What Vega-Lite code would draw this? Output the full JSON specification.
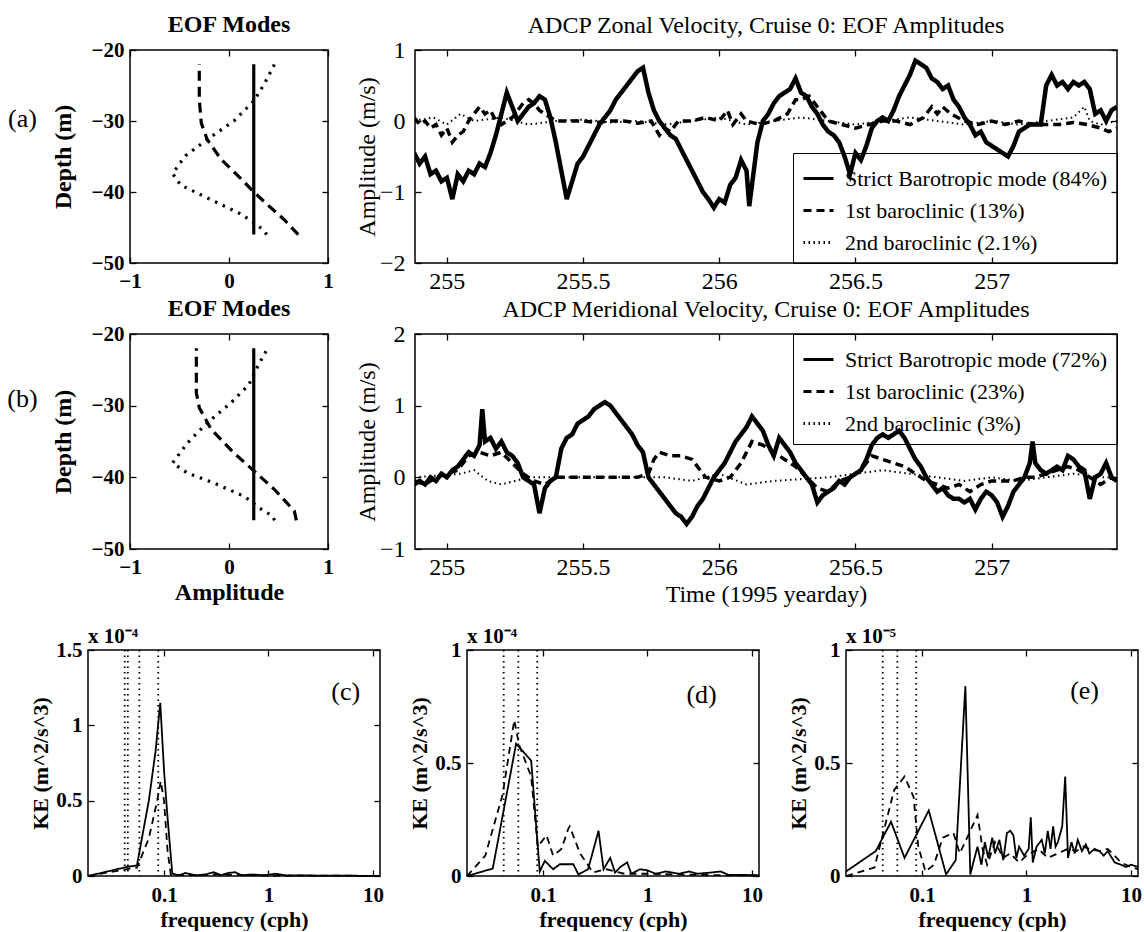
{
  "$schema": "https://vega.github.io/schema/vega-lite/v6.json",
  "background": "white",
  "padding": {"left": 0, "top": 12, "right": 0, "bottom": 0},
  "config": {
    "font": "Liberation Serif",
    "view": {"stroke": "black", "strokeWidth": 1.5},
    "axis": {"grid": false, "domain": false, "ticks": true, "tickSize": -6, "tickColor": "black", "tickWidth": 1.3, "labelPadding": 13, "labelFont": "Liberation Serif", "labelFontSize": 21, "labelFontWeight": "bold", "labelColor": "black", "labelFlush": false, "labelOverlap": false, "titleFont": "Liberation Serif", "titleFontSize": 24, "titleFontWeight": "bold", "titleColor": "black", "titlePadding": 3},
    "axisY": {"labelPadding": 12},
    "title": {"font": "Liberation Serif", "fontSize": 24, "fontWeight": "bold", "color": "black", "offset": 2},
    "line": {"color": "black"},
    "rule": {"color": "black"},
    "text": {"color": "black", "font": "Liberation Serif"}
  },
  "datasets": {
    "eofA": [
      {"amp": 0.25, "depth": -22, "mode": "Strict Barotropic"}, {"amp": 0.25, "depth": -46, "mode": "Strict Barotropic"},
      {"amp": -0.30, "depth": -22, "mode": "1st baroclinic"}, {"amp": -0.30, "depth": -27, "mode": "1st baroclinic"}, {"amp": -0.28, "depth": -30.3, "mode": "1st baroclinic"}, {"amp": -0.22, "depth": -32.6, "mode": "1st baroclinic"}, {"amp": -0.08, "depth": -35.4, "mode": "1st baroclinic"}, {"amp": 0.12, "depth": -38.1, "mode": "1st baroclinic"}, {"amp": 0.25, "depth": -40, "mode": "1st baroclinic"}, {"amp": 0.39, "depth": -41.8, "mode": "1st baroclinic"}, {"amp": 0.55, "depth": -43.8, "mode": "1st baroclinic"}, {"amp": 0.7, "depth": -46, "mode": "1st baroclinic"},
      {"amp": 0.46, "depth": -22, "mode": "2nd baroclinic"}, {"amp": 0.36, "depth": -24.7, "mode": "2nd baroclinic"}, {"amp": 0.25, "depth": -27.2, "mode": "2nd baroclinic"}, {"amp": 0.05, "depth": -30, "mode": "2nd baroclinic"}, {"amp": -0.22, "depth": -32.6, "mode": "2nd baroclinic"}, {"amp": -0.44, "depth": -34.9, "mode": "2nd baroclinic"}, {"amp": -0.57, "depth": -37.4, "mode": "2nd baroclinic"}, {"amp": -0.49, "depth": -39, "mode": "2nd baroclinic"}, {"amp": -0.3, "depth": -40.3, "mode": "2nd baroclinic"}, {"amp": -0.15, "depth": -41.3, "mode": "2nd baroclinic"}, {"amp": 0.12, "depth": -43.1, "mode": "2nd baroclinic"}, {"amp": 0.25, "depth": -44.3, "mode": "2nd baroclinic"}, {"amp": 0.36, "depth": -45.5, "mode": "2nd baroclinic"}, {"amp": 0.38, "depth": -46, "mode": "2nd baroclinic"}
    ],
    "eofB": [
      {"amp": 0.25, "depth": -22, "mode": "Strict Barotropic"}, {"amp": 0.25, "depth": -46, "mode": "Strict Barotropic"},
      {"amp": -0.33, "depth": -22, "mode": "1st baroclinic"}, {"amp": -0.33, "depth": -28.2, "mode": "1st baroclinic"}, {"amp": -0.30, "depth": -30.3, "mode": "1st baroclinic"}, {"amp": -0.18, "depth": -33.3, "mode": "1st baroclinic"}, {"amp": 0.05, "depth": -36.6, "mode": "1st baroclinic"}, {"amp": 0.26, "depth": -39.2, "mode": "1st baroclinic"}, {"amp": 0.46, "depth": -41.7, "mode": "1st baroclinic"}, {"amp": 0.66, "depth": -44.7, "mode": "1st baroclinic"}, {"amp": 0.68, "depth": -46, "mode": "1st baroclinic"},
      {"amp": 0.39, "depth": -22, "mode": "2nd baroclinic"}, {"amp": 0.29, "depth": -24.5, "mode": "2nd baroclinic"}, {"amp": 0.2, "depth": -27.1, "mode": "2nd baroclinic"}, {"amp": 0.02, "depth": -29.6, "mode": "2nd baroclinic"}, {"amp": -0.22, "depth": -32.4, "mode": "2nd baroclinic"}, {"amp": -0.42, "depth": -35.2, "mode": "2nd baroclinic"}, {"amp": -0.57, "depth": -38, "mode": "2nd baroclinic"}, {"amp": -0.42, "depth": -39.4, "mode": "2nd baroclinic"}, {"amp": -0.15, "depth": -40.8, "mode": "2nd baroclinic"}, {"amp": 0.16, "depth": -42.7, "mode": "2nd baroclinic"}, {"amp": 0.31, "depth": -44.3, "mode": "2nd baroclinic"}, {"amp": 0.44, "depth": -45.4, "mode": "2nd baroclinic"}, {"amp": 0.46, "depth": -46, "mode": "2nd baroclinic"}
    ],
    "z1": [
      {"t":254.88,"v":-0.45},{"t":254.90,"v":-0.6},{"t":254.92,"v":-0.5},{"t":254.94,"v":-0.75},{"t":254.96,"v":-0.7},{"t":254.98,"v":-0.85},{"t":255.00,"v":-0.8},{"t":255.02,"v":-1.1},{"t":255.04,"v":-0.75},{"t":255.06,"v":-0.85},{"t":255.08,"v":-0.7},{"t":255.10,"v":-0.75},{"t":255.12,"v":-0.6},{"t":255.14,"v":-0.65},{"t":255.16,"v":-0.45},{"t":255.18,"v":-0.2},{"t":255.20,"v":0.1},{"t":255.22,"v":0.4},{"t":255.24,"v":0.2},{"t":255.26,"v":0.0},{"t":255.28,"v":0.1},{"t":255.30,"v":0.2},{"t":255.32,"v":0.25},{"t":255.34,"v":0.35},{"t":255.36,"v":0.3},{"t":255.38,"v":0.05},{"t":255.40,"v":-0.3},{"t":255.42,"v":-0.7},{"t":255.44,"v":-1.1},{"t":255.46,"v":-0.85},{"t":255.48,"v":-0.6},{"t":255.50,"v":-0.5},{"t":255.52,"v":-0.35},{"t":255.54,"v":-0.2},{"t":255.56,"v":-0.05},{"t":255.58,"v":0.05},{"t":255.60,"v":0.15},{"t":255.62,"v":0.3},{"t":255.64,"v":0.4},{"t":255.66,"v":0.5},{"t":255.68,"v":0.6},{"t":255.70,"v":0.7},{"t":255.72,"v":0.75},{"t":255.74,"v":0.4},{"t":255.76,"v":0.15},{"t":255.78,"v":0.0},{"t":255.80,"v":-0.1},{"t":255.82,"v":-0.2},{"t":255.84,"v":-0.25},{"t":255.86,"v":-0.4},{"t":255.88,"v":-0.55},{"t":255.90,"v":-0.7},{"t":255.92,"v":-0.85},{"t":255.94,"v":-1.0},{"t":255.96,"v":-1.1},{"t":255.98,"v":-1.22},{"t":256.00,"v":-1.1},{"t":256.02,"v":-1.15},{"t":256.04,"v":-0.9},{"t":256.06,"v":-0.8},{"t":256.08,"v":-0.55},{"t":256.10,"v":-0.7},{"t":256.11,"v":-1.2},{"t":256.12,"v":-0.9},{"t":256.14,"v":-0.3},{"t":256.16,"v":0.0},{"t":256.18,"v":0.1},{"t":256.20,"v":0.25},{"t":256.22,"v":0.35},{"t":256.24,"v":0.4},{"t":256.26,"v":0.45},{"t":256.28,"v":0.6},{"t":256.30,"v":0.4},{"t":256.32,"v":0.35},{"t":256.34,"v":0.2},{"t":256.36,"v":0.1},{"t":256.38,"v":-0.05},{"t":256.40,"v":-0.15},{"t":256.42,"v":-0.2},{"t":256.44,"v":-0.3},{"t":256.46,"v":-0.5},{"t":256.48,"v":-0.75},{"t":256.50,"v":-0.45},{"t":256.52,"v":-0.55},{"t":256.54,"v":-0.35},{"t":256.56,"v":-0.1},{"t":256.58,"v":0.0},{"t":256.60,"v":0.05},{"t":256.62,"v":0.0},{"t":256.64,"v":0.15},{"t":256.66,"v":0.35},{"t":256.68,"v":0.5},{"t":256.70,"v":0.65},{"t":256.72,"v":0.85},{"t":256.74,"v":0.8},{"t":256.76,"v":0.75},{"t":256.78,"v":0.6},{"t":256.80,"v":0.55},{"t":256.82,"v":0.45},{"t":256.84,"v":0.5},{"t":256.86,"v":0.3},{"t":256.88,"v":0.2},{"t":256.90,"v":0.05},{"t":256.92,"v":-0.05},{"t":256.94,"v":-0.2},{"t":256.96,"v":-0.15},{"t":256.98,"v":-0.3},{"t":257.00,"v":-0.35},{"t":257.02,"v":-0.4},{"t":257.04,"v":-0.45},{"t":257.06,"v":-0.5},{"t":257.08,"v":-0.35},{"t":257.10,"v":-0.15},{"t":257.12,"v":-0.1},{"t":257.14,"v":-0.05},{"t":257.16,"v":-0.05},{"t":257.18,"v":-0.05},{"t":257.20,"v":0.5},{"t":257.22,"v":0.65},{"t":257.24,"v":0.5},{"t":257.26,"v":0.55},{"t":257.28,"v":0.45},{"t":257.30,"v":0.55},{"t":257.32,"v":0.5},{"t":257.34,"v":0.55},{"t":257.36,"v":0.45},{"t":257.38,"v":0.1},{"t":257.40,"v":0.15},{"t":257.42,"v":0.0},{"t":257.44,"v":0.15},{"t":257.46,"v":0.2}
    ],
    "z2": [
      {"t":254.88,"v":0.05},{"t":254.90,"v":-0.05},{"t":254.92,"v":0.0},{"t":254.94,"v":-0.1},{"t":254.96,"v":-0.05},{"t":254.98,"v":-0.2},{"t":255.00,"v":-0.1},{"t":255.02,"v":-0.3},{"t":255.04,"v":-0.2},{"t":255.06,"v":-0.15},{"t":255.08,"v":0.0},{"t":255.10,"v":0.1},{"t":255.12,"v":0.2},{"t":255.14,"v":0.1},{"t":255.16,"v":0.15},{"t":255.18,"v":0.0},{"t":255.20,"v":-0.05},{"t":255.22,"v":0.0},{"t":255.24,"v":0.05},{"t":255.26,"v":0.15},{"t":255.28,"v":0.25},{"t":255.30,"v":0.3},{"t":255.32,"v":0.25},{"t":255.34,"v":0.15},{"t":255.36,"v":0.1},{"t":255.38,"v":0.05},{"t":255.40,"v":0.0},{"t":255.45,"v":0.0},{"t":255.50,"v":0.0},{"t":255.55,"v":-0.02},{"t":255.60,"v":0.0},{"t":255.65,"v":0.0},{"t":255.70,"v":-0.03},{"t":255.75,"v":0.0},{"t":255.78,"v":-0.2},{"t":255.80,"v":-0.1},{"t":255.82,"v":-0.15},{"t":255.85,"v":0.0},{"t":255.90,"v":0.0},{"t":255.95,"v":0.05},{"t":256.00,"v":0.0},{"t":256.03,"v":0.15},{"t":256.05,"v":-0.05},{"t":256.08,"v":0.1},{"t":256.10,"v":0.0},{"t":256.15,"v":-0.05},{"t":256.20,"v":0.0},{"t":256.25,"v":0.1},{"t":256.28,"v":0.3},{"t":256.30,"v":0.3},{"t":256.33,"v":0.35},{"t":256.36,"v":0.2},{"t":256.40,"v":0.0},{"t":256.45,"v":-0.05},{"t":256.50,"v":-0.1},{"t":256.55,"v":-0.05},{"t":256.60,"v":0.0},{"t":256.65,"v":0.0},{"t":256.70,"v":-0.05},{"t":256.75,"v":0.05},{"t":256.78,"v":0.2},{"t":256.80,"v":0.1},{"t":256.82,"v":0.2},{"t":256.85,"v":0.1},{"t":256.90,"v":0.0},{"t":256.95,"v":-0.05},{"t":257.00,"v":0.0},{"t":257.05,"v":-0.05},{"t":257.10,"v":0.0},{"t":257.15,"v":-0.05},{"t":257.20,"v":-0.05},{"t":257.25,"v":-0.05},{"t":257.30,"v":-0.02},{"t":257.35,"v":-0.05},{"t":257.40,"v":-0.1},{"t":257.43,"v":-0.15},{"t":257.46,"v":-0.1}
    ],
    "z3": [
      {"t":254.88,"v":0.0},{"t":254.95,"v":0.05},{"t":255.00,"v":-0.05},{"t":255.05,"v":0.1},{"t":255.10,"v":0.0},{"t":255.20,"v":0.05},{"t":255.30,"v":-0.05},{"t":255.40,"v":0.0},{"t":255.50,"v":0.02},{"t":255.60,"v":-0.02},{"t":255.70,"v":0.0},{"t":255.80,"v":-0.05},{"t":255.90,"v":0.0},{"t":256.00,"v":0.05},{"t":256.10,"v":-0.05},{"t":256.20,"v":0.0},{"t":256.30,"v":0.05},{"t":256.40,"v":0.0},{"t":256.50,"v":-0.05},{"t":256.60,"v":0.0},{"t":256.70,"v":0.05},{"t":256.80,"v":0.0},{"t":256.90,"v":-0.05},{"t":257.00,"v":0.0},{"t":257.10,"v":-0.05},{"t":257.20,"v":0.0},{"t":257.30,"v":0.05},{"t":257.34,"v":0.2},{"t":257.36,"v":0.0},{"t":257.40,"v":-0.05},{"t":257.46,"v":0.0}
    ],
    "m1": [
      {"t":254.88,"v":-0.1},{"t":254.90,"v":-0.05},{"t":254.92,"v":-0.1},{"t":254.94,"v":0.0},{"t":254.96,"v":-0.05},{"t":254.98,"v":0.05},{"t":255.00,"v":0.0},{"t":255.02,"v":0.1},{"t":255.04,"v":0.15},{"t":255.06,"v":0.25},{"t":255.08,"v":0.35},{"t":255.10,"v":0.3},{"t":255.12,"v":0.45},{"t":255.13,"v":0.95},{"t":255.14,"v":0.5},{"t":255.16,"v":0.55},{"t":255.18,"v":0.4},{"t":255.20,"v":0.5},{"t":255.22,"v":0.35},{"t":255.24,"v":0.3},{"t":255.26,"v":0.2},{"t":255.28,"v":0.0},{"t":255.30,"v":-0.05},{"t":255.32,"v":-0.1},{"t":255.34,"v":-0.5},{"t":255.36,"v":-0.15},{"t":255.38,"v":-0.05},{"t":255.40,"v":0.0},{"t":255.42,"v":0.4},{"t":255.44,"v":0.55},{"t":255.46,"v":0.6},{"t":255.48,"v":0.75},{"t":255.50,"v":0.8},{"t":255.52,"v":0.85},{"t":255.54,"v":0.95},{"t":255.56,"v":1.0},{"t":255.58,"v":1.05},{"t":255.60,"v":1.0},{"t":255.62,"v":0.9},{"t":255.64,"v":0.8},{"t":255.66,"v":0.7},{"t":255.68,"v":0.6},{"t":255.70,"v":0.45},{"t":255.72,"v":0.35},{"t":255.74,"v":0.0},{"t":255.76,"v":-0.1},{"t":255.78,"v":-0.2},{"t":255.80,"v":-0.3},{"t":255.82,"v":-0.4},{"t":255.84,"v":-0.5},{"t":255.86,"v":-0.55},{"t":255.88,"v":-0.65},{"t":255.90,"v":-0.55},{"t":255.92,"v":-0.4},{"t":255.94,"v":-0.3},{"t":255.96,"v":-0.15},{"t":255.98,"v":0.0},{"t":256.00,"v":0.1},{"t":256.02,"v":0.2},{"t":256.04,"v":0.35},{"t":256.06,"v":0.5},{"t":256.08,"v":0.6},{"t":256.10,"v":0.7},{"t":256.12,"v":0.85},{"t":256.14,"v":0.75},{"t":256.16,"v":0.65},{"t":256.18,"v":0.45},{"t":256.20,"v":0.3},{"t":256.22,"v":0.55},{"t":256.24,"v":0.45},{"t":256.26,"v":0.35},{"t":256.28,"v":0.2},{"t":256.30,"v":0.1},{"t":256.32,"v":0.0},{"t":256.34,"v":-0.1},{"t":256.36,"v":-0.35},{"t":256.38,"v":-0.25},{"t":256.40,"v":-0.2},{"t":256.42,"v":-0.15},{"t":256.44,"v":-0.05},{"t":256.46,"v":-0.1},{"t":256.48,"v":0.0},{"t":256.50,"v":0.05},{"t":256.52,"v":0.1},{"t":256.54,"v":0.25},{"t":256.56,"v":0.45},{"t":256.58,"v":0.55},{"t":256.60,"v":0.6},{"t":256.62,"v":0.55},{"t":256.64,"v":0.6},{"t":256.66,"v":0.65},{"t":256.68,"v":0.55},{"t":256.70,"v":0.4},{"t":256.72,"v":0.25},{"t":256.74,"v":0.15},{"t":256.76,"v":0.0},{"t":256.78,"v":-0.1},{"t":256.80,"v":-0.2},{"t":256.82,"v":-0.15},{"t":256.84,"v":-0.25},{"t":256.86,"v":-0.3},{"t":256.88,"v":-0.3},{"t":256.90,"v":-0.35},{"t":256.92,"v":-0.3},{"t":256.94,"v":-0.45},{"t":256.96,"v":-0.3},{"t":256.98,"v":-0.2},{"t":257.00,"v":-0.25},{"t":257.02,"v":-0.35},{"t":257.04,"v":-0.55},{"t":257.06,"v":-0.4},{"t":257.08,"v":-0.2},{"t":257.10,"v":-0.1},{"t":257.12,"v":0.0},{"t":257.14,"v":0.2},{"t":257.15,"v":0.5},{"t":257.16,"v":0.2},{"t":257.18,"v":0.1},{"t":257.20,"v":0.05},{"t":257.22,"v":0.1},{"t":257.24,"v":0.15},{"t":257.26,"v":0.1},{"t":257.28,"v":0.3},{"t":257.30,"v":0.25},{"t":257.32,"v":0.15},{"t":257.34,"v":0.1},{"t":257.36,"v":-0.3},{"t":257.38,"v":0.0},{"t":257.40,"v":0.05},{"t":257.42,"v":0.2},{"t":257.44,"v":0.0},{"t":257.46,"v":-0.05}
    ],
    "m2": [
      {"t":254.88,"v":-0.05},{"t":254.92,"v":-0.1},{"t":254.96,"v":0.0},{"t":255.00,"v":0.05},{"t":255.04,"v":0.1},{"t":255.08,"v":0.3},{"t":255.12,"v":0.35},{"t":255.16,"v":0.3},{"t":255.20,"v":0.35},{"t":255.24,"v":0.2},{"t":255.28,"v":0.05},{"t":255.32,"v":-0.05},{"t":255.36,"v":-0.1},{"t":255.40,"v":0.0},{"t":255.50,"v":0.0},{"t":255.60,"v":0.0},{"t":255.70,"v":0.0},{"t":255.74,"v":0.05},{"t":255.76,"v":0.25},{"t":255.78,"v":0.35},{"t":255.82,"v":0.3},{"t":255.86,"v":0.3},{"t":255.90,"v":0.25},{"t":255.92,"v":0.15},{"t":255.95,"v":0.0},{"t":256.00,"v":-0.05},{"t":256.04,"v":0.0},{"t":256.08,"v":0.2},{"t":256.12,"v":0.5},{"t":256.16,"v":0.45},{"t":256.20,"v":0.35},{"t":256.24,"v":0.25},{"t":256.28,"v":0.15},{"t":256.32,"v":0.0},{"t":256.36,"v":-0.15},{"t":256.40,"v":-0.2},{"t":256.44,"v":-0.05},{"t":256.48,"v":0.0},{"t":256.52,"v":0.1},{"t":256.56,"v":0.3},{"t":256.60,"v":0.25},{"t":256.64,"v":0.2},{"t":256.68,"v":0.15},{"t":256.72,"v":0.05},{"t":256.76,"v":-0.05},{"t":256.80,"v":-0.1},{"t":256.84,"v":-0.15},{"t":256.88,"v":-0.1},{"t":256.92,"v":-0.2},{"t":256.96,"v":-0.1},{"t":257.00,"v":-0.05},{"t":257.04,"v":-0.05},{"t":257.08,"v":-0.05},{"t":257.12,"v":0.0},{"t":257.16,"v":0.0},{"t":257.20,"v":0.05},{"t":257.24,"v":0.1},{"t":257.28,"v":0.15},{"t":257.32,"v":0.1},{"t":257.36,"v":0.0},{"t":257.40,"v":-0.1},{"t":257.44,"v":0.0},{"t":257.46,"v":-0.05}
    ],
    "m3": [
      {"t":254.88,"v":0.0},{"t":255.05,"v":0.05},{"t":255.10,"v":0.1},{"t":255.15,"v":-0.05},{"t":255.20,"v":-0.1},{"t":255.25,"v":-0.05},{"t":255.30,"v":0.0},{"t":255.50,"v":0.0},{"t":255.80,"v":0.0},{"t":255.90,"v":-0.05},{"t":256.00,"v":0.05},{"t":256.10,"v":-0.1},{"t":256.20,"v":-0.05},{"t":256.40,"v":0.0},{"t":256.50,"v":0.05},{"t":256.60,"v":0.1},{"t":256.70,"v":0.05},{"t":256.80,"v":0.0},{"t":256.90,"v":-0.05},{"t":257.00,"v":0.0},{"t":257.10,"v":-0.05},{"t":257.20,"v":0.0},{"t":257.30,"v":0.05},{"t":257.40,"v":0.0},{"t":257.46,"v":0.0}
    ],
    "specC": [
      {"f":0.0187,"ke":0,"s":"a"},{"f":0.044,"ke":0.000006,"s":"a"},{"f":0.055,"ke":0.000007,"s":"a"},{"f":0.0715,"ke":0.00005,"s":"a"},{"f":0.083,"ke":0.000083,"s":"a"},{"f":0.092,"ke":0.000115,"s":"a"},{"f":0.1,"ke":0.00007,"s":"a"},{"f":0.108,"ke":0.000039,"s":"a"},{"f":0.112,"ke":0.000026,"s":"a"},{"f":0.12,"ke":0.0000015,"s":"a"},{"f":0.14,"ke":0.0000005,"s":"a"},{"f":0.16,"ke":0.000002,"s":"a"},{"f":0.2,"ke":0.0000005,"s":"a"},{"f":0.25,"ke":0.000001,"s":"a"},{"f":0.3,"ke":0.0000025,"s":"a"},{"f":0.35,"ke":0.0000005,"s":"a"},{"f":0.41,"ke":0.000002,"s":"a"},{"f":0.48,"ke":0.0000025,"s":"a"},{"f":0.55,"ke":0.0000005,"s":"a"},{"f":0.7,"ke":0.000001,"s":"a"},{"f":0.9,"ke":0.0000005,"s":"a"},{"f":1.17,"ke":0.0000015,"s":"a"},{"f":1.5,"ke":0.0000003,"s":"a"},{"f":2,"ke":0.0000005,"s":"a"},{"f":3,"ke":0.0000002,"s":"a"},{"f":5,"ke":0.0000003,"s":"a"},{"f":8,"ke":0.0000001,"s":"a"},{"f":11.7,"ke":0.0000001,"s":"a"},
      {"f":0.0187,"ke":0,"s":"b"},{"f":0.03,"ke":0.0000025,"s":"b"},{"f":0.044,"ke":0.0000045,"s":"b"},{"f":0.055,"ke":0.0000055,"s":"b"},{"f":0.0715,"ke":0.000025,"s":"b"},{"f":0.086,"ke":0.00005,"s":"b"},{"f":0.093,"ke":0.000063,"s":"b"},{"f":0.1,"ke":0.00005,"s":"b"},{"f":0.108,"ke":0.000017,"s":"b"},{"f":0.116,"ke":0.000001,"s":"b"},{"f":0.15,"ke":0.0000005,"s":"b"},{"f":0.3,"ke":0.000001,"s":"b"},{"f":1,"ke":0.0000003,"s":"b"},{"f":11.7,"ke":0.0000001,"s":"b"}
    ],
    "specD": [
      {"f":0.0187,"ke":0,"s":"a"},{"f":0.033,"ke":0.0000033,"s":"a"},{"f":0.0552,"ke":0.0000585,"s":"a"},{"f":0.077,"ke":0.000051,"s":"a"},{"f":0.093,"ke":0.000002,"s":"a"},{"f":0.104,"ke":0.0000067,"s":"a"},{"f":0.125,"ke":0.000003,"s":"a"},{"f":0.145,"ke":0.0000052,"s":"a"},{"f":0.195,"ke":0.0000052,"s":"a"},{"f":0.218,"ke":0.0000007,"s":"a"},{"f":0.27,"ke":0.000003,"s":"a"},{"f":0.34,"ke":0.00002,"s":"a"},{"f":0.38,"ke":0.000003,"s":"a"},{"f":0.44,"ke":0.000008,"s":"a"},{"f":0.49,"ke":0.0000015,"s":"a"},{"f":0.55,"ke":0.000004,"s":"a"},{"f":0.64,"ke":0.000006,"s":"a"},{"f":0.7,"ke":0.000001,"s":"a"},{"f":0.85,"ke":0.000003,"s":"a"},{"f":1.0,"ke":0.0000025,"s":"a"},{"f":1.2,"ke":0.000001,"s":"a"},{"f":1.5,"ke":0.000002,"s":"a"},{"f":2,"ke":0.000001,"s":"a"},{"f":2.5,"ke":0.000002,"s":"a"},{"f":3,"ke":0.000001,"s":"a"},{"f":4,"ke":0.0000015,"s":"a"},{"f":5,"ke":0.000002,"s":"a"},{"f":6,"ke":0.0000005,"s":"a"},{"f":8,"ke":0.0000005,"s":"a"},{"f":11.7,"ke":0.0000003,"s":"a"},
      {"f":0.0187,"ke":0,"s":"b"},{"f":0.028,"ke":0.000009,"s":"b"},{"f":0.041,"ke":0.000036,"s":"b"},{"f":0.053,"ke":0.000069,"s":"b"},{"f":0.059,"ke":0.000058,"s":"b"},{"f":0.077,"ke":0.000044,"s":"b"},{"f":0.089,"ke":0.000013,"s":"b"},{"f":0.108,"ke":0.000018,"s":"b"},{"f":0.125,"ke":0.000009,"s":"b"},{"f":0.15,"ke":0.000012,"s":"b"},{"f":0.175,"ke":0.000021,"s":"b"},{"f":0.18,"ke":0.000022,"s":"b"},{"f":0.226,"ke":0.00001,"s":"b"},{"f":0.26,"ke":0.000006,"s":"b"},{"f":0.3,"ke":0.0000015,"s":"b"},{"f":0.4,"ke":0.000003,"s":"b"},{"f":0.6,"ke":0.000001,"s":"b"},{"f":1,"ke":0.000001,"s":"b"},{"f":3,"ke":0.0000005,"s":"b"},{"f":11.7,"ke":0.0000002,"s":"b"}
    ],
    "specE": [
      {"f":0.0187,"ke":0.0000002,"s":"a"},{"f":0.036,"ke":0.0000011,"s":"a"},{"f":0.0505,"ke":0.0000024,"s":"a"},{"f":0.068,"ke":0.0000008,"s":"a"},{"f":0.116,"ke":0.0000029,"s":"a"},{"f":0.17,"ke":0.00000007,"s":"a"},{"f":0.21,"ke":0.0000007,"s":"a"},{"f":0.26,"ke":0.0000084,"s":"a"},{"f":0.29,"ke":0.00000007,"s":"a"},{"f":0.31,"ke":0.0000006,"s":"a"},{"f":0.34,"ke":0.0000013,"s":"a"},{"f":0.37,"ke":0.0000005,"s":"a"},{"f":0.4,"ke":0.0000015,"s":"a"},{"f":0.43,"ke":0.0000008,"s":"a"},{"f":0.47,"ke":0.0000017,"s":"a"},{"f":0.5,"ke":0.000001,"s":"a"},{"f":0.55,"ke":0.0000016,"s":"a"},{"f":0.6,"ke":0.0000007,"s":"a"},{"f":0.65,"ke":0.0000019,"s":"a"},{"f":0.7,"ke":0.000002,"s":"a"},{"f":0.75,"ke":0.0000018,"s":"a"},{"f":0.8,"ke":0.0000008,"s":"a"},{"f":0.85,"ke":0.0000013,"s":"a"},{"f":0.95,"ke":0.0000009,"s":"a"},{"f":1.05,"ke":0.0000012,"s":"a"},{"f":1.1,"ke":0.0000026,"s":"a"},{"f":1.15,"ke":0.0000006,"s":"a"},{"f":1.25,"ke":0.0000013,"s":"a"},{"f":1.4,"ke":0.0000016,"s":"a"},{"f":1.5,"ke":0.000001,"s":"a"},{"f":1.6,"ke":0.000002,"s":"a"},{"f":1.7,"ke":0.0000012,"s":"a"},{"f":1.8,"ke":0.0000022,"s":"a"},{"f":1.9,"ke":0.0000013,"s":"a"},{"f":2.0,"ke":0.0000015,"s":"a"},{"f":2.2,"ke":0.0000022,"s":"a"},{"f":2.35,"ke":0.0000044,"s":"a"},{"f":2.5,"ke":0.0000008,"s":"a"},{"f":2.7,"ke":0.0000015,"s":"a"},{"f":2.9,"ke":0.000001,"s":"a"},{"f":3.1,"ke":0.0000016,"s":"a"},{"f":3.4,"ke":0.0000011,"s":"a"},{"f":3.7,"ke":0.0000014,"s":"a"},{"f":4,"ke":0.000001,"s":"a"},{"f":4.5,"ke":0.0000012,"s":"a"},{"f":5,"ke":0.0000011,"s":"a"},{"f":5.5,"ke":0.0000009,"s":"a"},{"f":6,"ke":0.0000011,"s":"a"},{"f":7,"ke":0.0000006,"s":"a"},{"f":8,"ke":0.0000005,"s":"a"},{"f":9,"ke":0.0000004,"s":"a"},{"f":10,"ke":0.0000005,"s":"a"},{"f":11.7,"ke":0.0000004,"s":"a"},
      {"f":0.0187,"ke":0,"s":"b"},{"f":0.035,"ke":0.00000037,"s":"b"},{"f":0.047,"ke":0.0000027,"s":"b"},{"f":0.054,"ke":0.0000038,"s":"b"},{"f":0.068,"ke":0.0000044,"s":"b"},{"f":0.083,"ke":0.0000035,"s":"b"},{"f":0.092,"ke":0.0000013,"s":"b"},{"f":0.108,"ke":0.0000002,"s":"b"},{"f":0.13,"ke":0.0000005,"s":"b"},{"f":0.158,"ke":0.0000017,"s":"b"},{"f":0.2,"ke":0.0000019,"s":"b"},{"f":0.23,"ke":0.000001,"s":"b"},{"f":0.29,"ke":0.000002,"s":"b"},{"f":0.34,"ke":0.0000027,"s":"b"},{"f":0.38,"ke":0.0000012,"s":"b"},{"f":0.42,"ke":0.0000005,"s":"b"},{"f":0.5,"ke":0.0000015,"s":"b"},{"f":0.6,"ke":0.0000008,"s":"b"},{"f":0.7,"ke":0.000001,"s":"b"},{"f":0.85,"ke":0.0000006,"s":"b"},{"f":1.0,"ke":0.0000009,"s":"b"},{"f":1.3,"ke":0.0000012,"s":"b"},{"f":1.6,"ke":0.0000008,"s":"b"},{"f":2,"ke":0.000001,"s":"b"},{"f":2.5,"ke":0.0000012,"s":"b"},{"f":3,"ke":0.0000011,"s":"b"},{"f":3.5,"ke":0.0000013,"s":"b"},{"f":4,"ke":0.0000012,"s":"b"},{"f":5,"ke":0.0000011,"s":"b"},{"f":6,"ke":0.0000012,"s":"b"},{"f":7,"ke":0.0000009,"s":"b"},{"f":8,"ke":0.0000006,"s":"b"},{"f":10,"ke":0.0000004,"s":"b"},{"f":11.7,"ke":0.0000003,"s":"b"}
    ],
    "tidesC": [{"f":0.042},{"f":0.045},{"f":0.058},{"f":0.088}],
    "tidesD": [{"f":0.042},{"f":0.058},{"f":0.088}]
  },
  "spacing": 2,
  "resolve": {"scale": {"strokeDash": "independent"}},
  "vconcat": [
    {
      "bounds": "flush",
      "spacing": 87,
      "resolve": {"scale": {"strokeDash": "independent"}},
      "hconcat": [
        {
          "width": 43, "height": 213,
          "view": {"stroke": null},
          "data": {"values": [{"label": "(a)"}]},
          "mark": {"type": "text", "fontSize": 26, "dx": 1, "dy": -38},
          "encoding": {"text": {"field": "label", "type": "nominal"}}
        },
        {
          "width": 198, "height": 213,
          "title": {"text": "EOF Modes"},
          "data": {"name": "eofA"},
          "resolve": {"axis": {"x": "independent", "y": "independent"}},
          "layer": [
            {"transform": [{"filter": "datum.mode === 'Strict Barotropic'"}],
             "mark": {"type": "line", "strokeWidth": 3.2},
             "encoding": {
               "x": {"field": "amp", "type": "quantitative", "scale": {"domain": [-1, 1], "nice": false}, "axis": {"values": [-1, 0, 1], "format": "~g", "title": null}},
               "y": {"field": "depth", "type": "quantitative", "scale": {"domain": [-50, -20], "nice": false, "zero": false}, "axis": {"values": [-50, -40, -30, -20], "title": "Depth (m)", "titlePadding": 16}},
               "order": {"field": "depth", "type": "quantitative"},
               "strokeDash": {"field": "mode", "type": "nominal", "scale": {"domain": ["Strict Barotropic", "1st baroclinic", "2nd baroclinic"], "range": [[1, 0], [10, 6], [2.5, 6]]}, "legend": null}
             }},
            {"transform": [{"filter": "datum.mode !== 'Strict Barotropic'"}],
             "mark": {"type": "line", "strokeWidth": 3.2},
             "encoding": {
               "x": {"field": "amp", "type": "quantitative", "axis": {"orient": "top", "values": [-1, 0, 1], "labels": false, "title": null}},
               "y": {"field": "depth", "type": "quantitative", "axis": {"orient": "right", "values": [-50, -40, -30, -20], "labels": false, "title": null}},
               "order": {"field": "depth", "type": "quantitative"},
               "strokeDash": {"field": "mode", "type": "nominal", "legend": null}
             }}
          ]
        },
        {
          "width": 702, "height": 213,
          "title": {"text": "ADCP Zonal Velocity, Cruise 0: EOF Amplitudes", "fontWeight": "normal", "fontSize": 24, "offset": 0},
          "resolve": {"axis": {"x": "independent", "y": "independent"}},
          "layer": [
            {"data": {"name": "z1"}, "mark": {"type": "line", "strokeWidth": 4.5, "clip": true},
             "encoding": {
               "x": {"field": "t", "type": "quantitative", "scale": {"domain": [254.883, 257.46], "nice": false, "zero": false}, "axis": {"values": [255, 255.5, 256, 256.5, 257], "format": "~g", "title": null, "labelFontSize": 24, "labelFontWeight": "normal", "labelPadding": 12}},
               "y": {"field": "v", "type": "quantitative", "scale": {"domain": [-2, 1], "nice": false}, "axis": {"values": [-2, -1, 0, 1], "title": "Amplitude (m/s)", "titleFontWeight": "normal", "labelFontSize": 24, "labelFontWeight": "normal", "titlePadding": 0, "labelPadding": 16}},
               "strokeDash": {"datum": "Strict Barotropic mode (84%)", "type": "nominal", "scale": {"domain": ["Strict Barotropic mode (84%)", "1st baroclinic (13%)", "2nd baroclinic (2.1%)"], "range": [[1, 0], [8, 5], [1.5, 3.5]]},
                 "legend": {"title": null, "orient": "bottom-right", "offset": 0, "strokeColor": "black", "fillColor": null, "padding": 9, "rowPadding": 4, "labelFont": "Liberation Serif", "labelFontSize": 22, "labelColor": "black", "labelLimit": 400, "labelOffset": 10, "symbolType": "stroke", "symbolSize": 900, "symbolStrokeWidth": 3, "symbolStrokeColor": "black"}}}},
            {"data": {"name": "z2"}, "mark": {"type": "line", "strokeWidth": 3.5, "clip": true},
             "encoding": {
               "x": {"field": "t", "type": "quantitative", "axis": {"orient": "top", "values": [255, 255.5, 256, 256.5, 257], "labels": false, "title": null}},
               "y": {"field": "v", "type": "quantitative", "axis": {"orient": "right", "values": [-2, -1, 0, 1], "labels": false, "title": null}},
               "strokeDash": {"datum": "1st baroclinic (13%)", "type": "nominal"}}},
            {"data": {"name": "z3"}, "mark": {"type": "line", "strokeWidth": 2, "clip": true},
             "encoding": {
               "x": {"field": "t", "type": "quantitative", "axis": null},
               "y": {"field": "v", "type": "quantitative", "axis": null},
               "strokeDash": {"datum": "2nd baroclinic (2.1%)", "type": "nominal"}}}
          ]
        }
      ]
    },
    {
      "bounds": "flush",
      "spacing": 87,
      "resolve": {"scale": {"strokeDash": "independent"}},
      "hconcat": [
        {
          "width": 43, "height": 289,
          "view": {"stroke": null},
          "data": {"values": [{"label": "(b)"}]},
          "mark": {"type": "text", "fontSize": 26, "dx": 1, "dy": -80},
          "encoding": {"text": {"field": "label", "type": "nominal"}}
        },
        {
          "width": 198, "height": 215,
          "title": {"text": "EOF Modes"},
          "data": {"name": "eofB"},
          "resolve": {"axis": {"x": "independent", "y": "independent"}},
          "layer": [
            {"transform": [{"filter": "datum.mode === 'Strict Barotropic'"}],
             "mark": {"type": "line", "strokeWidth": 3.2},
             "encoding": {
               "x": {"field": "amp", "type": "quantitative", "scale": {"domain": [-1, 1], "nice": false}, "axis": {"values": [-1, 0, 1], "format": "~g", "title": "Amplitude", "titlePadding": 3}},
               "y": {"field": "depth", "type": "quantitative", "scale": {"domain": [-50, -20], "nice": false, "zero": false}, "axis": {"values": [-50, -40, -30, -20], "title": "Depth (m)", "titlePadding": 16}},
               "order": {"field": "depth", "type": "quantitative"},
               "strokeDash": {"field": "mode", "type": "nominal", "scale": {"domain": ["Strict Barotropic", "1st baroclinic", "2nd baroclinic"], "range": [[1, 0], [10, 6], [2.5, 6]]}, "legend": null}
             }},
            {"transform": [{"filter": "datum.mode !== 'Strict Barotropic'"}],
             "mark": {"type": "line", "strokeWidth": 3.2},
             "encoding": {
               "x": {"field": "amp", "type": "quantitative", "axis": {"orient": "top", "values": [-1, 0, 1], "labels": false, "title": null}},
               "y": {"field": "depth", "type": "quantitative", "axis": {"orient": "right", "values": [-50, -40, -30, -20], "labels": false, "title": null}},
               "order": {"field": "depth", "type": "quantitative"},
               "strokeDash": {"field": "mode", "type": "nominal", "legend": null}
             }}
          ]
        },
        {
          "width": 702, "height": 215,
          "title": {"text": "ADCP Meridional Velocity, Cruise 0: EOF Amplitudes", "fontWeight": "normal", "fontSize": 24, "offset": 0},
          "resolve": {"axis": {"x": "independent", "y": "independent"}},
          "layer": [
            {"data": {"name": "m1"}, "mark": {"type": "line", "strokeWidth": 4.5, "clip": true},
             "encoding": {
               "x": {"field": "t", "type": "quantitative", "scale": {"domain": [254.883, 257.46], "nice": false, "zero": false}, "axis": {"values": [255, 255.5, 256, 256.5, 257], "format": "~g", "title": "Time (1995 yearday)", "titleFontWeight": "normal", "titlePadding": 3, "labelFontSize": 24, "labelFontWeight": "normal", "labelPadding": 12}},
               "y": {"field": "v", "type": "quantitative", "scale": {"domain": [-1, 2], "nice": false}, "axis": {"values": [-1, 0, 1, 2], "title": "Amplitude (m/s)", "titleFontWeight": "normal", "labelFontSize": 24, "labelFontWeight": "normal", "titlePadding": 0, "labelPadding": 16}},
               "strokeDash": {"datum": "Strict Barotropic mode (72%)", "type": "nominal", "scale": {"domain": ["Strict Barotropic mode (72%)", "1st baroclinic (23%)", "2nd baroclinic (3%)"], "range": [[1, 0], [8, 5], [1.5, 3.5]]},
                 "legend": {"title": null, "orient": "top-right", "offset": 0, "strokeColor": "black", "fillColor": null, "padding": 9, "rowPadding": 4, "labelFont": "Liberation Serif", "labelFontSize": 22, "labelColor": "black", "labelLimit": 400, "labelOffset": 10, "symbolType": "stroke", "symbolSize": 900, "symbolStrokeWidth": 3, "symbolStrokeColor": "black"}}}},
            {"data": {"name": "m2"}, "mark": {"type": "line", "strokeWidth": 3.5, "clip": true},
             "encoding": {
               "x": {"field": "t", "type": "quantitative", "axis": {"orient": "top", "values": [255, 255.5, 256, 256.5, 257], "labels": false, "title": null}},
               "y": {"field": "v", "type": "quantitative", "axis": {"orient": "right", "values": [-1, 0, 1, 2], "labels": false, "title": null}},
               "strokeDash": {"datum": "1st baroclinic (23%)", "type": "nominal"}}},
            {"data": {"name": "m3"}, "mark": {"type": "line", "strokeWidth": 2, "clip": true},
             "encoding": {
               "x": {"field": "t", "type": "quantitative", "axis": null},
               "y": {"field": "v", "type": "quantitative", "axis": null},
               "strokeDash": {"datum": "2nd baroclinic (3%)", "type": "nominal"}}}
          ]
        }
      ]
    },
    {
      "bounds": "flush",
      "spacing": 87,
      "resolve": {"scale": {"strokeDash": "independent"}},
      "hconcat": [
        {
          "width": 1, "height": 226,
          "view": {"stroke": null},
          "data": {"values": [{"label": ""}]},
          "mark": {"type": "text"},
          "encoding": {"text": {"field": "label", "type": "nominal"}}
        },
        {
          "width": 292, "height": 226,
          "title": {"text": "x 10⁻⁴", "anchor": "start", "frame": "group", "fontSize": 21, "offset": 0, "dy": 8},
          "resolve": {"axis": {"x": "independent", "y": "independent"}},
          "layer": [
            {"data": {"name": "tidesC"}, "mark": {"type": "rule", "strokeDash": [1.5, 4], "strokeWidth": 1.8},
             "encoding": {"x": {"field": "f", "type": "quantitative", "scale": {"type": "log", "domain": [0.0187, 11.7], "nice": false}, "axis": {"values": [0.1, 1, 10], "format": "~g", "title": "frequency (cph)", "titleFontSize": 22, "titlePadding": 4, "labelPadding": 14}}}},
            {"data": {"name": "specC"}, "mark": {"type": "line", "strokeWidth": 1.8},
             "encoding": {
               "x": {"field": "f", "type": "quantitative", "axis": {"orient": "top", "values": [0.1, 1, 10], "labels": false, "title": null}},
               "y": {"field": "ke", "type": "quantitative", "scale": {"domain": [0, 0.00015], "nice": false}, "axis": {"values": [0, 0.00005, 0.0001, 0.00015], "labelExpr": "format(datum.value*10000, '~g')", "title": "KE (m^2/s^3)", "titleFontSize": 22, "titlePadding": 3}},
               "strokeDash": {"field": "s", "type": "nominal", "scale": {"domain": ["a", "b"], "range": [[1, 0], [7, 5]]}, "legend": null}
             }},
            {"data": {"values": [{"f": 5.5, "ke": 0.000122, "label": "(c)"}]}, "mark": {"type": "text", "fontSize": 26},
             "encoding": {
               "x": {"field": "f", "type": "quantitative", "axis": null},
               "y": {"field": "ke", "type": "quantitative", "axis": {"orient": "right", "values": [0, 0.00005, 0.0001, 0.00015], "labels": false, "title": null}},
               "text": {"field": "label", "type": "nominal"}}}
          ]
        },
        {
          "width": 292, "height": 226,
          "title": {"text": "x 10⁻⁴", "anchor": "start", "frame": "group", "fontSize": 21, "offset": 0, "dy": 8},
          "resolve": {"axis": {"x": "independent", "y": "independent"}},
          "layer": [
            {"data": {"name": "tidesD"}, "mark": {"type": "rule", "strokeDash": [1.5, 4], "strokeWidth": 1.8},
             "encoding": {"x": {"field": "f", "type": "quantitative", "scale": {"type": "log", "domain": [0.0187, 11.7], "nice": false}, "axis": {"values": [0.1, 1, 10], "format": "~g", "title": "frequency (cph)", "titleFontSize": 22, "titlePadding": 4, "labelPadding": 14}}}},
            {"data": {"name": "specD"}, "mark": {"type": "line", "strokeWidth": 1.8},
             "encoding": {
               "x": {"field": "f", "type": "quantitative", "axis": {"orient": "top", "values": [0.1, 1, 10], "labels": false, "title": null}},
               "y": {"field": "ke", "type": "quantitative", "scale": {"domain": [0, 0.0001], "nice": false}, "axis": {"values": [0, 0.00005, 0.0001], "labelExpr": "format(datum.value*10000, '~g')", "title": "KE (m^2/s^3)", "titleFontSize": 22, "titlePadding": 3}},
               "strokeDash": {"field": "s", "type": "nominal", "scale": {"domain": ["a", "b"], "range": [[1, 0], [7, 5]]}, "legend": null}
             }},
            {"data": {"values": [{"f": 3.3, "ke": 0.00008, "label": "(d)"}]}, "mark": {"type": "text", "fontSize": 26},
             "encoding": {
               "x": {"field": "f", "type": "quantitative", "axis": null},
               "y": {"field": "ke", "type": "quantitative", "axis": {"orient": "right", "values": [0, 0.00005, 0.0001], "labels": false, "title": null}},
               "text": {"field": "label", "type": "nominal"}}}
          ]
        },
        {
          "width": 292, "height": 226,
          "title": {"text": "x 10⁻⁵", "anchor": "start", "frame": "group", "fontSize": 21, "offset": 0, "dy": 8},
          "resolve": {"axis": {"x": "independent", "y": "independent"}},
          "layer": [
            {"data": {"name": "tidesD"}, "mark": {"type": "rule", "strokeDash": [1.5, 4], "strokeWidth": 1.8},
             "encoding": {"x": {"field": "f", "type": "quantitative", "scale": {"type": "log", "domain": [0.0187, 11.7], "nice": false}, "axis": {"values": [0.1, 1, 10], "format": "~g", "title": "frequency (cph)", "titleFontSize": 22, "titlePadding": 4, "labelPadding": 14}}}},
            {"data": {"name": "specE"}, "mark": {"type": "line", "strokeWidth": 1.8},
             "encoding": {
               "x": {"field": "f", "type": "quantitative", "axis": {"orient": "top", "values": [0.1, 1, 10], "labels": false, "title": null}},
               "y": {"field": "ke", "type": "quantitative", "scale": {"domain": [0, 0.00001], "nice": false}, "axis": {"values": [0, 0.000005, 0.00001], "labelExpr": "format(datum.value*100000, '~g')", "title": "KE (m^2/s^3)", "titleFontSize": 22, "titlePadding": 3}},
               "strokeDash": {"field": "s", "type": "nominal", "scale": {"domain": ["a", "b"], "range": [[1, 0], [7, 5]]}, "legend": null}
             }},
            {"data": {"values": [{"f": 3.6, "ke": 0.0000082, "label": "(e)"}]}, "mark": {"type": "text", "fontSize": 26},
             "encoding": {
               "x": {"field": "f", "type": "quantitative", "axis": null},
               "y": {"field": "ke", "type": "quantitative", "axis": {"orient": "right", "values": [0, 0.000005, 0.00001], "labels": false, "title": null}},
               "text": {"field": "label", "type": "nominal"}}}
          ]
        }
      ]
    }
  ]
}
